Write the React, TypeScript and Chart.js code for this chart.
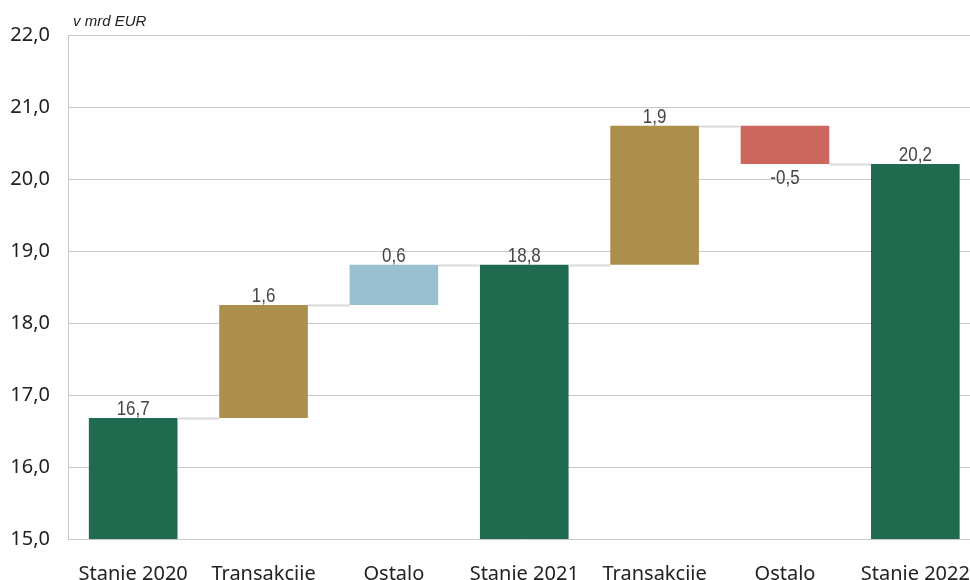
import React, { useEffect, useRef } from "react";
import { Chart, registerables } from "chart.js";

Chart.register(...registerables);

const categories = ["Stanie 2020", "Transakcije", "Ostalo", "Stanie 2021", "Transakcije", "Ostalo", "Stanie 2022"];
// kind: "total" bars start at axis base, "delta" bars float on the running sum
const kinds = ["total", "delta", "delta", "total", "delta", "delta", "total"];
const deltas = [16.68, 1.57, 0.56, 0, 1.93, -0.53, 0];
const yTicks = [15, 16, 17, 18, 19, 20, 21, 22];
const unitLabel = "v mrd EUR";

const colTotal = "#206a50";
const colDeltaPos = "#ad8f4c";
const colDeltaSmall = "#98c0d0";
const colNeg = "#cb675c";
const barColors = [colTotal, colDeltaPos, colDeltaSmall, colTotal, colDeltaPos, colNeg, colTotal];

function buildRanges() {
  const ranges: [number, number][] = [];
  const shown: number[] = [];
  let sum = 0;
  const base = yTicks[0];
  kinds.forEach((k, i) => {
    if (k === "total") {
      if (i === 0) sum = deltas[i];
      ranges.push([base, sum]);
      shown.push(sum);
    } else {
      const start = sum;
      sum = sum + deltas[i];
      ranges.push([start, sum]);
      shown.push(deltas[i]);
    }
  });
  return { ranges, shown };
}

const fmt = (v: number) => v.toFixed(1).replace(".", ",");

export default function App() {
  const ref = useRef<HTMLCanvasElement | null>(null);
  useEffect(() => {
    if (!ref.current) return;
    const { ranges, shown } = buildRanges();

    const overlay = {
      id: "overlay",
      afterDatasetsDraw(chart: any) {
        const ctx = chart.ctx;
        const meta = chart.getDatasetMeta(0);
        const ys = chart.scales.y;
        ctx.save();
        // connectors
        ctx.strokeStyle = "#dadada";
        ctx.lineWidth = 2;
        for (let i = 0; i < ranges.length - 1; i++) {
          const a = meta.data[i] as any;
          const b = meta.data[i + 1] as any;
          const level = ranges[i][1];
          const y = Math.round(ys.getPixelForValue(level)) + 0.5;
          ctx.beginPath();
          ctx.moveTo(a.x + a.width / 2, y);
          ctx.lineTo(b.x - b.width / 2, y);
          ctx.stroke();
        }
        // labels
        ctx.fillStyle = "#444";
        ctx.font = "20px 'Liberation Sans', Arial, sans-serif";
        ctx.textAlign = "center";
        for (let i = 0; i < ranges.length; i++) {
          const el = meta.data[i] as any;
          const [s, e] = ranges[i];
          const top = ys.getPixelForValue(Math.max(s, e));
          const bot = ys.getPixelForValue(Math.min(s, e));
          ctx.save();
          ctx.textBaseline = "alphabetic";
          if (shown[i] < 0) {
            ctx.translate(el.x, bot + 20);
          } else {
            ctx.translate(el.x, top - 3);
          }
          ctx.scale(0.85, 1);
          ctx.fillText(fmt(shown[i]), 0, 0);
          ctx.restore();
        }
        // unit label
        ctx.font = "italic 15px 'Liberation Sans', Arial, sans-serif";
        ctx.textAlign = "left";
        ctx.textBaseline = "middle";
        ctx.fillStyle = "#222";
        ctx.fillText(unitLabel, chart.chartArea.left + 5, 22);
        ctx.restore();
      },
    };

    const chart = new Chart(ref.current, {
      type: "bar",
      data: {
        labels: categories,
        datasets: [
          {
            data: ranges as any,
            backgroundColor: barColors,
            borderWidth: 0,
            borderSkipped: false,
            categoryPercentage: 1,
            barPercentage: 0.68,
          },
        ],
      },
      options: {
        animation: false,
        responsive: true,
        maintainAspectRatio: false,
        layout: { padding: { top: 35, right: 1, left: 0, bottom: 0 } },
        plugins: { legend: { display: false }, tooltip: { enabled: false } },
        scales: {
          x: {
            grid: { display: false, drawTicks: false },
            border: { display: false },
            ticks: {
              padding: 23,
              color: "#222",
              font: { family: "'Noto Sans', 'Open Sans', sans-serif", size: 20 },
              maxRotation: 0,
              autoSkip: false,
            },
            afterFit: (s: any) => {
              s.height = 55;
            },
          },
          y: {
            min: yTicks[0],
            max: yTicks[yTicks.length - 1],
            afterBuildTicks: (s: any) => {
              s.ticks = yTicks.map((v) => ({ value: v }));
            },
            grid: { color: "#c8c8c8", lineWidth: 1, drawTicks: false },
            border: { display: true, color: "#c8c8c8" },
            ticks: {
              padding: 18,
              color: "#222",
              font: { family: "'Noto Sans', 'Open Sans', sans-serif", size: 20 },
              callback: (v: any) => fmt(Number(v)),
            },
            afterFit: (s: any) => {
              s.width = 68;
            },
          },
        },
      },
      plugins: [overlay],
    });
    return () => chart.destroy();
  }, []);

  return (
    <div style={{ position: "fixed", left: 0, top: 0, width: 970, height: 580, overflow: "hidden", background: "#fff" }}>
      <div style={{ position: "absolute", left: 0, top: 0, width: 993, height: 594 }}>
        <canvas ref={ref} />
      </div>
    </div>
  );
}
